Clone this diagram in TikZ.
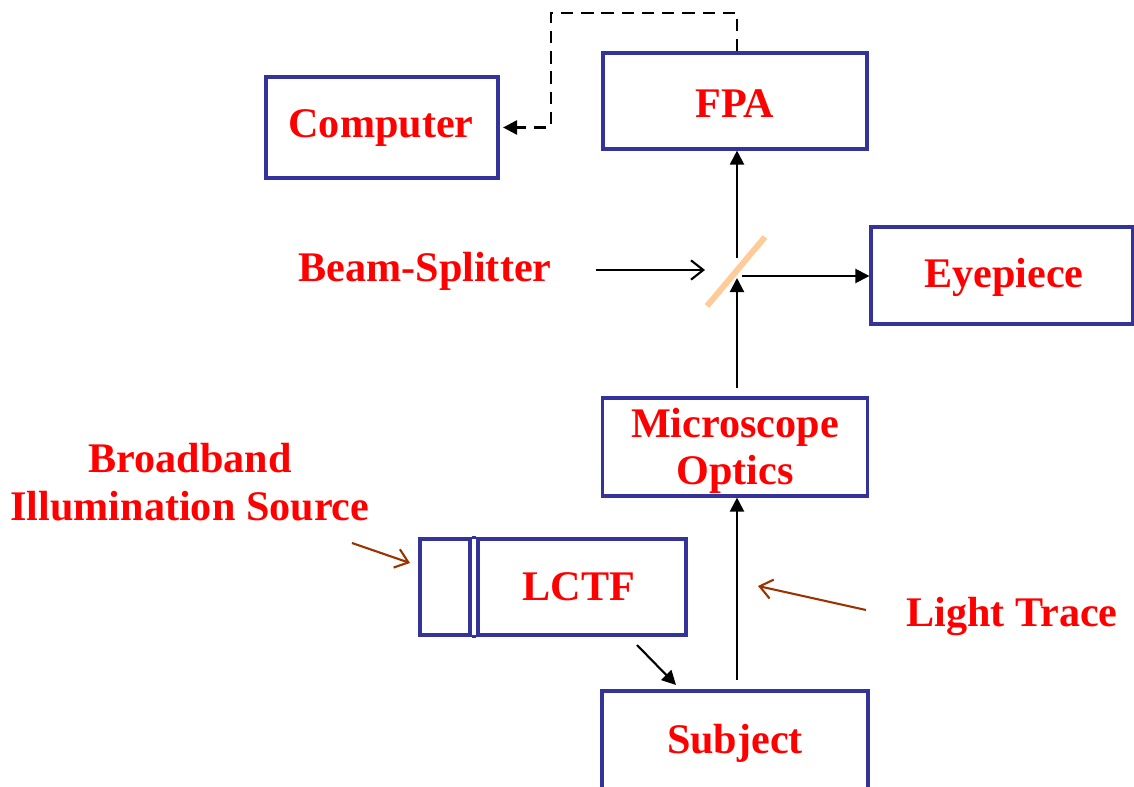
\documentclass[tikz,border=0pt]{standalone}
\usepackage{fontspec}
\setmainfont{Liberation Serif}
\usepackage{tikz}
\usetikzlibrary{arrows.meta}
\definecolor{BoxBlue}{RGB}{51,51,153}
\definecolor{LabelRed}{RGB}{255,0,0}
\definecolor{TraceBrown}{RGB}{153,51,0}
\definecolor{SplitPeach}{RGB}{255,204,153}
\tikzset{
  >={Triangle[length=8pt,width=8pt]},
  % blocchi
  box/.style={draw=BoxBlue,line width=1.8pt,text=LabelRed,align=center,inner sep=0pt},
  lbl/.style={text=LabelRed,align=center,inner sep=0pt},
  % frecce
  ray/.style={->,line width=1.2pt,black},
  hint/.style={-{Straight Barb[length=7pt,width=11pt]},line width=1.2pt},
  trace/.style={hint,TraceBrown}
}
\begin{document}
\begin{tikzpicture}[x=0.02cm,y=-0.02cm,every node/.style={font=\bfseries\fontsize{24}{27}\selectfont}]
        \useasboundingbox (0,0) rectangle (1134,787);
        \node[box,minimum width=4.64cm,minimum height=2.02cm] (comp) at (382,127.5) {};
        \node[box,minimum width=5.28cm,minimum height=1.92cm] (fpa) at (735,101) {};
        \node[box,minimum width=5.24cm,minimum height=1.94cm] (eye) at (1002,275.5) {};
        \node[box,minimum width=5.3cm,minimum height=1.96cm] (optics) at (735,447) {};
        \node[box,minimum width=1.0cm,minimum height=1.92cm] (cell) at (445,587) {};
        \node[box,minimum width=4.16cm,minimum height=1.92cm] (lctf) at (582,587) {};
        \node[box,minimum width=5.32cm,minimum height=2cm] (subj) at (735,741) {};
        \draw[BoxBlue,line width=1.8pt] (cell.north east) -- (lctf.north west);
        \draw[BoxBlue,line width=1.8pt] (cell.south east) -- (lctf.south west);
        % testi
        \node[lbl] (complbl) at (381,128) {Computer};
        \node[lbl] (fpalbl) at (735,104) {FPA};
        \node[lbl] (eyelbl) at (1004,277) {Eyepiece};
        \node[lbl] (opticslbl) at (735,451) {Microscope\\Optics};
        \node[lbl] (lctflbl) at (579,587) {LCTF};
        \node[lbl] (subjlbl) at (735,743) {Subject};
        \node[lbl] (bslbl) at (425,271) {Beam-Splitter};
        \node[lbl] (srclbl) at (190,482) {Broadband\\Illumination Source};
        \node[lbl] (tracelbl) at (1012,617) {Light Trace};
        % divisore di fascio
        \coordinate (bs1) at (707,306); \coordinate (bs2) at (765,237);
        \draw[SplitPeach,line width=3.4pt] (bs1) -- (bs2);
        \coordinate (up1) at (737,680); \coordinate (up2) at (737,388);
        \coordinate (bsin) at (737,278); \coordinate (bsout) at (737,258);
        \coordinate (bsr) at (742,276);
        \draw[ray] (up1) -- (optics.south -| up1);
        \draw[ray] (up2) -- (bsin);
        \draw[ray] (bsout) -- (fpa.south -| bsout);
        \draw[ray] (bsr) -- (eye.west |- bsr);
        \draw[ray,line width=1.6pt,dash pattern=on 7pt off 4.5pt,shorten >=2pt] (fpa.north -| bsout) |- (551,13) -- (551,127.5) -- (comp.east);
        \coordinate (l1) at (637,645); \coordinate (l2) at (676,685);
        \draw[ray] (l1) -- (l2);
        \coordinate (h1) at (596,270); \coordinate (h2) at (705,270);
        \draw[hint] (h1) -- (h2);
        \coordinate (s1) at (352,543); \coordinate (s2) at (410,563);
        \draw[trace] (s1) -- (s2);
        \coordinate (t1) at (866,610); \coordinate (t2) at (758,586);
        \draw[trace] (t1) -- (t2);
      \end{tikzpicture}
\end{document}
